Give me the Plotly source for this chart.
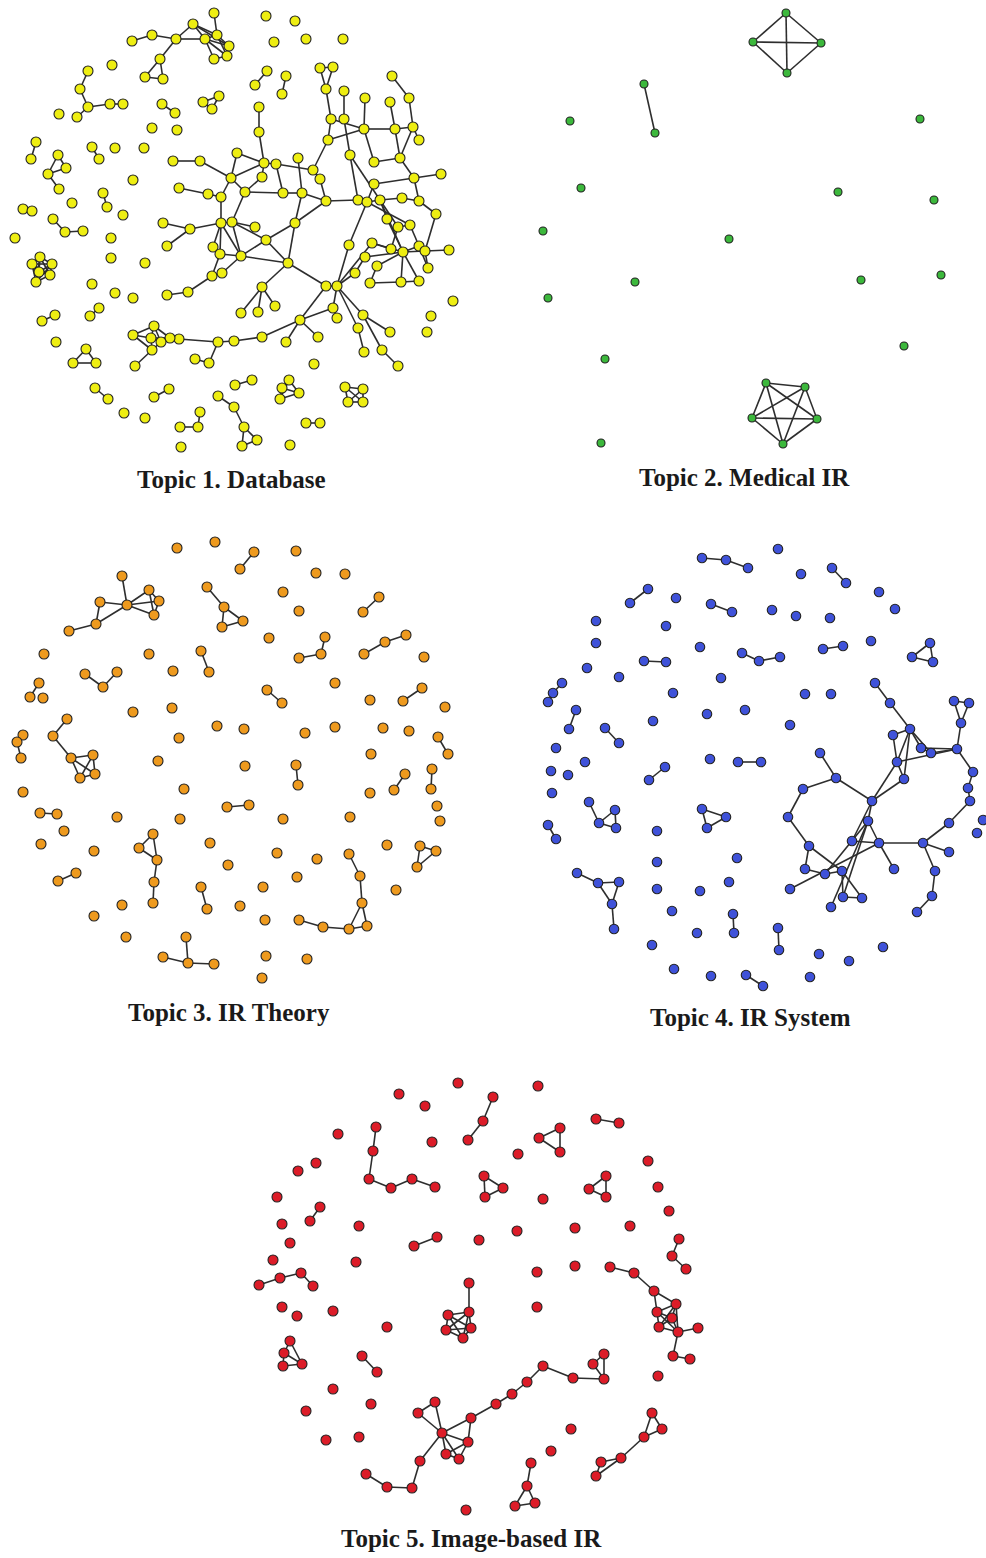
import itertools
import plotly.graph_objects as go

# Layout positions of the co-authorship networks, one block per topic.
# Each cluster is (node positions, links); links == "all" means a complete subgraph.

# ---------------- Topic 1. Database ----------------
topic1_core = [
    (173, 161), (200, 161), (231, 178), (237, 153), (179, 188), (208, 194), (221, 197), (221, 223),
    (163, 223), (190, 229), (167, 246), (232, 222), (213, 247), (220, 254), (241, 256), (212, 276),
    (222, 273), (188, 292), (167, 295), (264, 163), (259, 132), (259, 107), (276, 164), (262, 177),
    (245, 192), (283, 193), (302, 193), (298, 158), (313, 170), (320, 179), (326, 201), (295, 223),
    (255, 227), (266, 240), (288, 263), (262, 287), (258, 312), (275, 306), (241, 313), (328, 140),
    (331, 119), (326, 89), (320, 68), (333, 67), (344, 119), (344, 91), (364, 129), (365, 98),
    (395, 129), (390, 102), (413, 127), (409, 98), (392, 76), (419, 140), (350, 155), (374, 162),
    (400, 158), (414, 178), (441, 174), (374, 184), (358, 200), (367, 202), (380, 200), (402, 198),
    (419, 201), (436, 214), (387, 219), (398, 227), (410, 225), (349, 245), (372, 243), (391, 249),
    (403, 252), (419, 246), (425, 251), (449, 250), (365, 257), (377, 266), (355, 273), (370, 283),
    (401, 282), (419, 281), (428, 268), (326, 286), (337, 286), (333, 308), (337, 318), (363, 315),
    (358, 328), (390, 332), (364, 352), (382, 350), (398, 366), (300, 320), (318, 337), (286, 342),
    (262, 337), (234, 341), (218, 342), (209, 363), (195, 359), (179, 339), (170, 338), (161, 342),
    (154, 326), (151, 338), (152, 350), (133, 335), (135, 366),
]
topic1_core_links = [
    (0, 1), (1, 2), (2, 3), (4, 5), (5, 6), (6, 2), (6, 7), (8, 9), (9, 10), (9, 7), (7, 11), (7, 12),
    (7, 13), (7, 14), (11, 14), (12, 13), (13, 14), (13, 15), (15, 16), (16, 14), (15, 17), (17, 18),
    (3, 19), (19, 20), (20, 21), (19, 22), (19, 23), (19, 2), (23, 24), (24, 2), (24, 11), (24, 25),
    (25, 26), (22, 25), (27, 26), (26, 30), (26, 31), (22, 28), (28, 29), (29, 30), (28, 39), (39, 40),
    (40, 41), (41, 42), (41, 43), (42, 43), (11, 32), (11, 33), (33, 31), (33, 14), (14, 34), (33, 34),
    (31, 34), (34, 35), (35, 36), (35, 37), (35, 38), (34, 83), (31, 30), (30, 60), (60, 61), (61, 62),
    (60, 54), (54, 44), (44, 45), (39, 46), (40, 46), (46, 48), (48, 50), (50, 53), (48, 56), (50, 56),
    (46, 55), (55, 56), (56, 57), (57, 58), (57, 59), (59, 61), (54, 62), (62, 63), (63, 64), (64, 65),
    (62, 66), (62, 67), (62, 72), (61, 68), (61, 69), (69, 84), (84, 83), (83, 93), (84, 85), (84, 87),
    (84, 70), (70, 72), (70, 71), (76, 72), (71, 67), (66, 72), (67, 68), (68, 73), (72, 73), (72, 74),
    (74, 75), (72, 80), (72, 81), (73, 82), (74, 82), (77, 72), (77, 79), (78, 76), (78, 84), (79, 80),
    (80, 81), (65, 74), (57, 64), (47, 46), (52, 51), (51, 50), (49, 48), (85, 86), (87, 89), (84, 88),
    (88, 90), (87, 91), (91, 92), (93, 94), (93, 95), (93, 96), (96, 97), (97, 98), (98, 101), (98, 99),
    (99, 100), (101, 102), (102, 103), (103, 104), (103, 105), (103, 106), (104, 105), (105, 106),
    (104, 107), (105, 107), (107, 106), (106, 108), (102, 104), (102, 105), (93, 85),
]
topic1_clusters = [
    (topic1_core, topic1_core_links),
    ([(132, 41), (152, 35), (176, 39), (193, 24), (205, 39), (217, 35), (229, 46), (214, 59), (227, 56),
      (214, 13), (160, 59), (145, 77), (163, 79)],
     [(0, 1), (1, 2), (2, 3), (2, 4), (3, 4), (3, 5), (3, 6), (9, 5), (4, 5), (4, 7), (4, 8), (5, 6),
      (5, 8), (6, 8), (7, 8), (4, 6), (2, 10), (10, 11), (10, 12), (11, 12)]),
    ([(88, 71), (80, 89), (88, 107), (77, 117), (110, 104), (123, 104)],
     [(0, 1), (1, 2), (2, 3), (2, 4), (4, 5)]),
    ([(162, 104), (175, 113)], [(0, 1)]),
    ([(203, 102), (219, 96), (212, 109)], "all"),
    ([(36, 142), (31, 159)], [(0, 1)]),
    ([(58, 155), (48, 174), (66, 168), (59, 189)], [(0, 1), (1, 2), (0, 2), (1, 3)]),
    ([(92, 147), (99, 159)], [(0, 1)]),
    ([(103, 193), (107, 207)], [(0, 1)]),
    ([(23, 209), (32, 211)], [(0, 1)]),
    ([(53, 219), (65, 232), (83, 231)], [(0, 1), (1, 2)]),
    ([(40, 257), (32, 264), (52, 264), (39, 272), (50, 275), (36, 282)], "all"),
    ([(42, 321), (55, 315)], [(0, 1)]),
    ([(90, 316), (99, 308)], [(0, 1)]),
    ([(86, 349), (73, 363), (96, 363)], "all"),
    ([(95, 388), (108, 399)], [(0, 1)]),
    ([(154, 397), (169, 389)], [(0, 1)]),
    ([(200, 412), (198, 427), (180, 427)], [(0, 1), (1, 2)]),
    ([(218, 396), (234, 407), (244, 427), (242, 446), (257, 440)], [(0, 1), (1, 2), (2, 3), (2, 4), (3, 4)]),
    ([(235, 385), (252, 380)], [(0, 1)]),
    ([(267, 71), (255, 85)], [(0, 1)]),
    ([(286, 76), (282, 94)], [(0, 1)]),
    ([(289, 380), (282, 388), (299, 393), (280, 399)], "all"),
    ([(345, 387), (363, 389), (348, 402), (363, 402)], "all"),
    ([(306, 423), (320, 423)], [(0, 1)]),
]
topic1_single = [
    (112, 65), (59, 114), (152, 128), (177, 130), (115, 148), (144, 148), (133, 180), (72, 203),
    (123, 215), (15, 238), (111, 238), (111, 258), (145, 263), (92, 284), (115, 293), (133, 298),
    (56, 342), (124, 413), (145, 418), (181, 447), (266, 16), (295, 21), (274, 42), (306, 39),
    (343, 39), (453, 301), (431, 316), (427, 332), (314, 364), (290, 445),
]

# ---------------- Topic 2. Medical IR ----------------
topic2_clusters = [
    ([(786, 13), (753, 42), (821, 43), (787, 73)], "all"),
    ([(644, 84), (655, 133)], [(0, 1)]),
    ([(766, 383), (805, 387), (752, 418), (817, 419), (783, 444)], "all"),
]
topic2_single = [
    (570, 121), (920, 119), (581, 188), (838, 192), (934, 200), (543, 231), (729, 239), (635, 282),
    (861, 280), (941, 275), (548, 298), (904, 346), (605, 359), (601, 443),
]

# ---------------- Topic 3. IR Theory ----------------
topic3_clusters = [
    ([(122, 576), (127, 605), (100, 602), (96, 624), (69, 631), (149, 590), (159, 601), (154, 615)],
     [(0, 1), (2, 3), (3, 1), (4, 3), (2, 1), (1, 5), (1, 6), (1, 7), (5, 7), (5, 6), (6, 7)]),
    ([(207, 587), (224, 607), (243, 621), (222, 627)], [(0, 1), (1, 2), (1, 3), (2, 3)]),
    ([(240, 569), (254, 552)], [(0, 1)]),
    ([(201, 651), (209, 672)], [(0, 1)]),
    ([(85, 674), (103, 687), (117, 672)], [(0, 1), (1, 2)]),
    ([(39, 683), (30, 697)], [(0, 1)]),
    ([(67, 719), (53, 736), (71, 758), (93, 755), (95, 774), (80, 778)],
     [(0, 1), (1, 2), (2, 3), (2, 4), (2, 5), (3, 4), (3, 5), (4, 5)]),
    ([(23, 735), (17, 742), (21, 758)], [(0, 1), (1, 2)]),
    ([(40, 813), (57, 814)], [(0, 1)]),
    ([(227, 807), (249, 805)], [(0, 1)]),
    ([(153, 834), (139, 848), (157, 860), (154, 882), (153, 903)], [(0, 1), (1, 2), (0, 2), (2, 3), (3, 4)]),
    ([(58, 881), (76, 873)], [(0, 1)]),
    ([(201, 887), (207, 909)], [(0, 1)]),
    ([(186, 937), (188, 963), (163, 957), (214, 964)], [(0, 1), (1, 2), (1, 3)]),
    ([(379, 597), (363, 612)], [(0, 1)]),
    ([(325, 637), (321, 654), (299, 658)], [(0, 1), (1, 2)]),
    ([(364, 654), (385, 642), (406, 635)], [(0, 1), (1, 2)]),
    ([(267, 690), (282, 703)], [(0, 1)]),
    ([(422, 688), (403, 701)], [(0, 1)]),
    ([(438, 737), (448, 754)], [(0, 1)]),
    ([(296, 765), (298, 785)], [(0, 1)]),
    ([(405, 774), (394, 790)], [(0, 1)]),
    ([(432, 769), (431, 789)], [(0, 1)]),
    ([(420, 846), (436, 851), (417, 867)], "all"),
    ([(349, 854), (360, 876), (362, 903), (367, 926), (349, 929), (323, 927), (299, 920)],
     [(0, 1), (1, 2), (2, 3), (2, 4), (3, 4), (4, 5), (5, 6)]),
]
topic3_single = [
    (177, 548), (215, 542), (44, 654), (149, 654), (173, 671), (43, 698), (133, 712), (172, 708),
    (217, 726), (179, 738), (158, 761), (23, 792), (184, 789), (117, 817), (180, 819), (64, 831),
    (41, 844), (210, 843), (94, 851), (228, 865), (122, 905), (94, 916), (240, 906), (126, 937),
    (296, 551), (316, 573), (345, 574), (283, 592), (299, 611), (269, 638), (424, 657), (335, 683),
    (370, 700), (445, 707), (244, 729), (305, 733), (335, 727), (383, 728), (409, 731), (371, 754),
    (245, 766), (370, 793), (437, 806), (440, 821), (283, 819), (350, 817), (387, 845), (277, 853),
    (317, 859), (297, 877), (263, 887), (396, 890), (265, 920), (266, 956), (307, 959), (262, 978),
]

# ---------------- Topic 4. IR System ----------------
topic4_core = [
    (875, 683), (890, 703), (910, 729), (893, 735), (921, 748), (931, 753), (957, 749), (897, 762),
    (904, 779), (954, 701), (969, 703), (961, 723), (973, 772), (968, 788), (970, 801), (949, 823),
    (923, 843), (949, 852), (935, 871), (932, 896), (917, 912), (872, 801), (868, 821), (879, 843),
    (852, 841), (894, 869), (820, 753), (836, 778), (803, 789), (788, 817), (809, 846), (805, 869),
    (825, 874), (842, 871), (790, 889), (843, 897), (862, 898), (831, 907),
]
topic4_core_links = [
    (0, 1), (1, 2), (2, 4), (2, 5), (3, 7), (3, 2), (7, 2), (7, 6), (4, 5), (5, 6), (4, 6), (7, 8),
    (8, 2), (9, 10), (9, 11), (10, 11), (11, 6), (6, 12), (12, 13), (13, 14), (14, 15), (15, 16),
    (16, 17), (16, 18), (18, 19), (19, 20), (16, 23), (23, 22), (22, 21), (21, 7), (21, 8), (26, 27),
    (27, 21), (27, 28), (28, 29), (29, 30), (30, 31), (30, 33), (31, 32), (32, 33), (33, 35), (33, 36),
    (35, 36), (23, 25), (24, 23), (24, 21), (34, 23), (37, 22), (35, 22), (32, 22),
]
topic4_clusters = [
    (topic4_core, topic4_core_links),
    ([(702, 558), (726, 560), (748, 568)], [(0, 1), (1, 2)]),
    ([(648, 589), (630, 603)], [(0, 1)]),
    ([(711, 604), (732, 612)], [(0, 1)]),
    ([(644, 661), (666, 662)], [(0, 1)]),
    ([(742, 653), (759, 661), (780, 657)], [(0, 1), (1, 2)]),
    ([(562, 683), (553, 693), (548, 702)], [(0, 1), (1, 2)]),
    ([(576, 710), (569, 729)], [(0, 1)]),
    ([(605, 728), (619, 743)], [(0, 1)]),
    ([(738, 762), (761, 762)], [(0, 1)]),
    ([(665, 767), (649, 780)], [(0, 1)]),
    ([(589, 802), (599, 823), (615, 810), (616, 828)], [(0, 1), (1, 2), (1, 3), (2, 3)]),
    ([(548, 825), (556, 839)], [(0, 1)]),
    ([(702, 809), (726, 817), (707, 828)], "all"),
    ([(577, 873), (598, 883), (619, 882), (612, 904), (614, 929)], [(0, 1), (1, 2), (1, 3), (2, 3), (3, 4)]),
    ([(733, 914), (734, 933)], [(0, 1)]),
    ([(746, 975), (763, 986)], [(0, 1)]),
    ([(832, 568), (846, 583)], [(0, 1)]),
    ([(823, 649), (843, 646)], [(0, 1)]),
    ([(930, 643), (912, 657), (933, 662)], "all"),
    ([(778, 928), (779, 950)], [(0, 1)]),
]
topic4_single = [
    (676, 598), (596, 621), (666, 626), (596, 643), (700, 647), (587, 668), (619, 677), (721, 678),
    (673, 693), (707, 714), (745, 710), (653, 721), (556, 748), (710, 759), (585, 762), (551, 771),
    (568, 775), (552, 793), (657, 831), (657, 862), (737, 858), (657, 889), (700, 891), (729, 882),
    (672, 911), (697, 933), (652, 945), (674, 969), (711, 976), (778, 549), (801, 574), (879, 592),
    (895, 609), (772, 610), (796, 616), (830, 618), (871, 641), (805, 694), (831, 694), (790, 725),
    (983, 820), (977, 833), (819, 954), (849, 961), (883, 947), (810, 977),
]

# ---------------- Topic 5. Image-based IR ----------------
topic5_clusters = [
    ([(376, 1127), (373, 1151), (369, 1179), (391, 1188), (412, 1179), (435, 1187)],
     [(0, 1), (1, 2), (2, 3), (3, 4), (4, 5)]),
    ([(468, 1140), (483, 1121), (493, 1097)], [(0, 1), (1, 2)]),
    ([(320, 1207), (310, 1221)], [(0, 1)]),
    ([(437, 1237), (414, 1246)], [(0, 1)]),
    ([(259, 1285), (280, 1278), (301, 1273), (313, 1286)], [(0, 1), (1, 2), (2, 3)]),
    ([(469, 1283), (469, 1312), (448, 1315), (446, 1330), (463, 1338), (471, 1328)],
     [(0, 1)] + list(itertools.combinations(range(1, 6), 2))),
    ([(290, 1341), (284, 1353), (283, 1366), (302, 1364)], [(0, 1), (0, 3), (1, 2), (2, 3), (1, 3)]),
    ([(362, 1356), (377, 1372)], [(0, 1)]),
    ([(435, 1402), (418, 1413), (442, 1433), (471, 1418), (468, 1442), (446, 1454), (459, 1459),
      (420, 1461), (412, 1488), (387, 1487), (366, 1474), (496, 1404), (512, 1394), (527, 1382),
      (543, 1366), (573, 1378), (604, 1379), (593, 1364), (604, 1354)],
     [(0, 1), (1, 2), (0, 2), (2, 3), (2, 4), (2, 5), (2, 6), (5, 6), (4, 6), (4, 5), (3, 4), (2, 7),
      (7, 8), (8, 9), (9, 10), (3, 11), (11, 12), (12, 13), (13, 14), (14, 15), (15, 16), (16, 17),
      (17, 18), (16, 18)]),
    ([(596, 1119), (619, 1123)], [(0, 1)]),
    ([(560, 1128), (539, 1138), (560, 1152)], "all"),
    ([(484, 1176), (503, 1188), (485, 1197)], "all"),
    ([(606, 1176), (589, 1189), (606, 1197)], "all"),
    ([(679, 1239), (672, 1256), (686, 1269)], [(0, 1), (1, 2)]),
    ([(610, 1267), (634, 1273), (654, 1291), (676, 1304), (657, 1312), (672, 1318), (659, 1327),
      (678, 1332), (698, 1328), (673, 1356), (690, 1359)],
     [(0, 1), (1, 2), (2, 3), (2, 4)] + list(itertools.combinations(range(3, 8), 2))
     + [(7, 8), (7, 9), (9, 10)]),
    ([(652, 1413), (662, 1429), (644, 1437), (621, 1458), (601, 1462), (596, 1476)],
     [(0, 1), (1, 2), (0, 2), (2, 3), (3, 4), (3, 5), (4, 5)]),
    ([(531, 1463), (527, 1486), (515, 1506), (535, 1503)], [(0, 1), (1, 2), (1, 3), (2, 3)]),
]
topic5_single = [
    (458, 1083), (399, 1094), (425, 1106), (338, 1134), (432, 1142), (298, 1171), (316, 1163),
    (277, 1197), (282, 1224), (359, 1226), (290, 1243), (479, 1240), (273, 1260), (356, 1262),
    (282, 1307), (297, 1316), (333, 1311), (387, 1327), (333, 1389), (371, 1404), (306, 1411),
    (359, 1437), (326, 1440), (466, 1510), (538, 1086), (518, 1154), (648, 1161), (658, 1187),
    (543, 1199), (669, 1211), (517, 1231), (575, 1228), (630, 1226), (537, 1272), (575, 1266),
    (537, 1307), (658, 1376), (571, 1429), (551, 1451),
]

topic_titles = ["Topic 1. Database", "Topic 2. Medical IR", "Topic 3. IR Theory",
                "Topic 4. IR System", "Topic 5. Image-based IR"]
title_pos = [(231, 479), (744, 477), (229, 1012), (750, 1017), (471, 1538)]
node_colors = ["#eeee12", "#3cb83c", "#ee9a1e", "#3f52d9", "#dc1c28"]
node_sizes = [10, 8, 10, 9.5, 10]

topics = [
    (topic1_clusters, topic1_single),
    (topic2_clusters, topic2_single),
    (topic3_clusters, topic3_single),
    (topic4_clusters, topic4_single),
    (topic5_clusters, topic5_single),
]


def collect(clusters, singles):
    xs, ys, ex, ey = [], [], [], []
    for pts, links in clusters:
        if links == "all":
            links = list(itertools.combinations(range(len(pts)), 2))
        for a, b in links:
            ex += [pts[a][0], pts[b][0], None]
            ey += [pts[a][1], pts[b][1], None]
        xs += [p[0] for p in pts]
        ys += [p[1] for p in pts]
    xs += [p[0] for p in singles]
    ys += [p[1] for p in singles]
    return xs, ys, ex, ey


fig = go.Figure()
for i, (clusters, singles) in enumerate(topics):
    xs, ys, ex, ey = collect(clusters, singles)
    fig.add_trace(go.Scatter(x=ex, y=ey, mode="lines", hoverinfo="skip",
                             line=dict(color="#2e2e2e", width=1.6), showlegend=False))
    fig.add_trace(go.Scatter(x=xs, y=ys, mode="markers", showlegend=False,
                             name=topic_titles[i],
                             marker=dict(size=node_sizes[i], color=node_colors[i],
                                         line=dict(color="#222222", width=1.1))))

for (tx, ty), label in zip(title_pos, topic_titles):
    fig.add_annotation(x=tx, y=ty, text=f"<b>{label}</b>", showarrow=False,
                       xanchor="center", yanchor="middle",
                       font=dict(family="Liberation Serif", size=25, color="#1a1a1a"))

fig.update_xaxes(range=[0, 986], visible=False, showgrid=False, zeroline=False, fixedrange=True)
fig.update_yaxes(range=[1558, 0], visible=False, showgrid=False, zeroline=False, fixedrange=True)
fig.update_layout(width=986, height=1558, margin=dict(l=0, r=0, t=0, b=0),
                  paper_bgcolor="white", plot_bgcolor="white")

fig.write_html("out.html")
